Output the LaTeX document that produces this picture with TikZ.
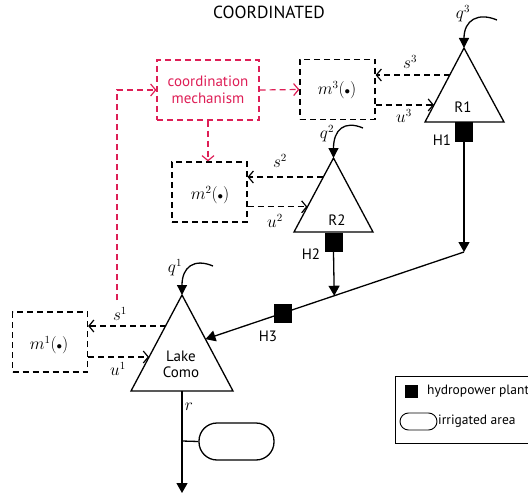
\documentclass[tikz,border=0pt]{standalone}
\usepackage{fontspec}
\setsansfont{PT Sans}
\usetikzlibrary{arrows.meta,calc}
\definecolor{coord}{RGB}{222,30,86}
\newcommand{\pdot}{{\scriptstyle\bullet}}
\begin{document}
\begin{tikzpicture}[x=1pt,y=-1pt,
  txt/.style={font=\sffamily\fontsize{15}{17}\selectfont, inner sep=0pt},
  small/.style={font=\sffamily\fontsize{13.5}{15}\selectfont, inner sep=0pt},
  mth/.style={font=\fontsize{16}{18}\selectfont, inner sep=0pt},
  thick line/.style={line width=1.3pt},
  flow/.style={thick line, -{Triangle[length=10pt,width=11pt]}},
  inflow/.style={thick line, -{Triangle[length=10pt,width=10pt]}},
  dashpat/.style={dash pattern=on 6pt off 4pt},
  sig/.style={line width=1.2pt, dashpat, -{Straight Barb[length=5pt,width=12pt]}},
  ctl/.style={sig, draw=coord},
  policy/.style={draw, line width=1.2pt, dashpat, minimum width=75pt, minimum height=60pt, inner sep=0pt},
  plant/.style={fill=black, minimum width=18pt, minimum height=19pt, inner sep=0pt},
]
\clip (0,0) rectangle (528,495);

\node[txt, font=\sffamily\fontsize{17.5}{19}\selectfont] (title) at (269,12) {COORDINATED};

% ---- reservoirs ----
\coordinate (R1a) at (464,48);  \coordinate (R1l) at (425,122); \coordinate (R1r) at (504,122);
\coordinate (R2a) at (333.5,158); \coordinate (R2l) at (294,232); \coordinate (R2r) at (373,232);
\coordinate (Lka) at (182,295); \coordinate (Lkl) at (131,391); \coordinate (Lkr) at (233,391);
\draw[thick line, line join=miter] (R1a) -- (R1l) -- (R1r) -- cycle;
\draw[thick line, line join=miter] (R2a) -- (R2l) -- (R2r) -- cycle;
\draw[thick line, line join=miter] (Lka) -- (Lkl) -- (Lkr) -- cycle;
\node[txt] (R1) at (463,107) {R1};
\node[txt] (R2) at (337,220) {R2};
\node[txt, align=center] (lake) at (181,364) {Lake\\[-1pt]Como};

% ---- inflows ----
\coordinate (q3s) at (497,20);
\coordinate (q2s) at (363,128);
\coordinate (q1s) at (213,266);
\draw[inflow] (q3s) .. controls (478,12) and (464,20) .. (R1a);
\draw[inflow] (q2s) .. controls (344,120) and (333.5,130) .. (R2a);
\draw[inflow] (q1s) .. controls (194,258) and (182,267) .. (Lka);
\node[mth] (q3) at (463,14) {$q^3$};
\node[mth] (q2) at (327,134) {$q^2$};
\node[mth] (q1) at (175,268) {$q^1$};

% ---- hydropower plants and releases ----
\node[plant] (H1) at (464,132) {};
\node[plant] (H2) at (333.5,242) {};
\node[txt] (H1l) at (442,140) {H1};
\node[txt] (H2l) at (311,254) {H2};
\coordinate (J1) at (464,252);
\coordinate (lakeIn) at ($(Lka)!0.46!(Lkr)$);
\coordinate (J2) at ($(J1)!0.5019!(lakeIn)$);
\draw[flow] (H1.south) -- (J1);
\draw[flow] (H2.south) -- (J2);
\draw[flow] (J1) -- (lakeIn);
\node[plant] (H3) at ($(J1)!0.7!(lakeIn)$) {};
\node[txt] (H3l) at (268,336) {H3};

% ---- release to the downstream ----
\coordinate (Lkb) at (182,391);
\coordinate (out) at (182,493);
\coordinate (br) at (182,441);
\draw[flow] (Lkb) -- (out);
\node[mth] (r) at (189,407) {$r$};
\node[draw, thick line, minimum width=75pt, minimum height=37pt, rounded corners=18pt, inner sep=0pt] (irr) at (236.5,441.5) {};
\draw[thick line] (br) -- (irr.west);

% ---- operating policies ----
\node[policy] (m3) at (337.5,89.5) {};
\node[mth] at (337,90) {$m^3(\pdot)$};
\node[policy] (m2) at (209.5,192) {};
\node[mth] at (210,195) {$m^2(\pdot)$};
\node[policy] (m1) at (50,342) {};
\node[mth] at (49,345) {$m^1(\pdot)$};

\coordinate (s3p) at ($(R1a)!0.365!(R1l)$);
\coordinate (u3p) at ($(R1a)!0.77!(R1l)$);
\coordinate (s2p) at ($(R2a)!0.257!(R2l)$);
\coordinate (u2p) at ($(R2a)!0.66!(R2l)$);
\coordinate (s1p) at ($(Lka)!0.323!(Lkl)$);
\coordinate (u1p) at ($(Lka)!0.646!(Lkl)$);
\draw[sig] (s3p) -- (s3p -| m3.east);
\draw[sig] (u3p -| m3.east) -- (u3p);
\draw[sig] (s2p) -- (s2p -| m2.east);
\draw[sig] (u2p -| m2.east) -- (u2p);
\draw[sig] (s1p) -- (s1p -| m1.east);
\draw[sig] (u1p -| m1.east) -- (u1p);
\node[mth] (s3) at (410,62) {$s^3$};
\node[mth] (u3) at (404,116) {$u^3$};
\node[mth] (s2) at (280,161) {$s^2$};
\node[mth] (u2) at (275,221) {$u^2$};
\node[mth] (s1) at (120,314) {$s^1$};
\node[mth] (u1) at (118,369) {$u^1$};

% ---- coordination ----
\node[draw=coord, line width=1.2pt, dashpat, minimum width=102pt, minimum height=60pt, inner sep=0pt,
      txt, text=coord, align=center] (cm) at (208,90) {coordination\\mechanism};
\coordinate (feed) at (117,300);
\draw[ctl] (cm.east) -- (m3.west);
\draw[ctl] (cm.south) -- (cm.south |- m2.north);
\draw[ctl] (feed) |- (cm.west);

% ---- legend ----
\draw[line width=0.9pt] (395,376) rectangle (560,443);
\node[fill=black, minimum size=13pt, inner sep=0pt] (lgH) at (411.5,391.5) {};
\node[small, anchor=west] (lgHt) at (427,391.5) {hydropower plant};
\node[draw, line width=0.9pt, minimum width=37pt, minimum height=17pt, rounded corners=8.5pt, inner sep=0pt] (lgI) at (418.5,421.5) {};
\node[small, anchor=west] (lgIt) at (438,421.5) {irrigated area};
\end{tikzpicture}
\end{document}
